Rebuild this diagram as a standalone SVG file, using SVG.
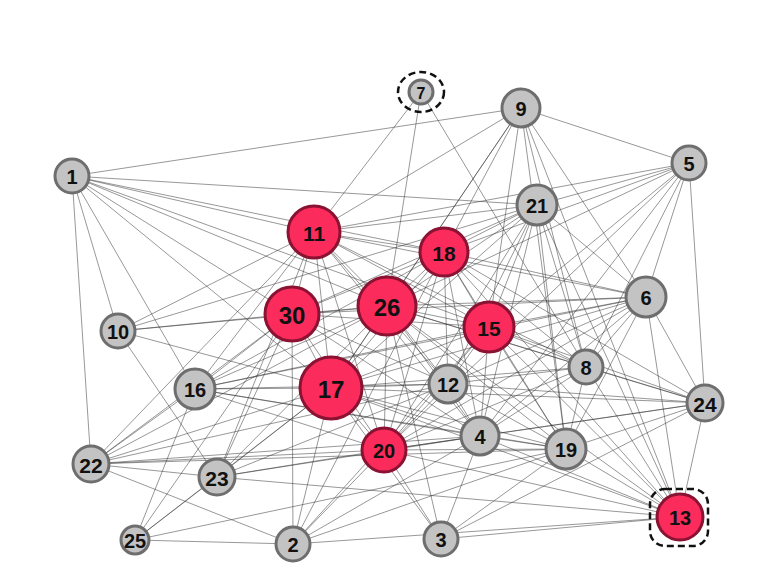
<svg xmlns="http://www.w3.org/2000/svg" width="766" height="575" viewBox="0 0 766 575">
<style>
.e line{stroke:#333;stroke-width:0.6;stroke-opacity:0.85}
.g{fill:#c3c3c3;stroke:#6e6e6e;stroke-width:3}
.r{fill:#fb2b5c;stroke:#8a1232;stroke-width:3}
text{font-family:"Liberation Sans",Arial,sans-serif;font-weight:bold;fill:#111;text-anchor:middle;dominant-baseline:central;font-size:20px}
.md{font-size:21px}
.big{font-size:24px}
.sm{font-size:16px}
.hl{fill:none;stroke:#111;stroke-width:2.5;stroke-dasharray:7 4}
</style>
<g id="edges" class="e">
<line x1="72" y1="176" x2="521" y2="108"/><line x1="72" y1="176" x2="537" y2="205"/><line x1="72" y1="176" x2="314" y2="232"/><line x1="72" y1="176" x2="444" y2="252"/><line x1="72" y1="176" x2="387" y2="306"/><line x1="72" y1="176" x2="292" y2="314"/><line x1="72" y1="176" x2="331" y2="388"/><line x1="72" y1="176" x2="118" y2="331"/><line x1="72" y1="176" x2="195" y2="389"/><line x1="72" y1="176" x2="91" y2="464"/><line x1="72" y1="176" x2="489" y2="327"/>
<line x1="421" y1="92" x2="314" y2="232"/><line x1="421" y1="92" x2="387" y2="306"/><line x1="421" y1="92" x2="586" y2="367"/>
<line x1="521" y1="108" x2="689" y2="163"/><line x1="521" y1="108" x2="314" y2="232"/><line x1="521" y1="108" x2="444" y2="252"/><line x1="521" y1="108" x2="387" y2="306"/><line x1="521" y1="108" x2="331" y2="388"/><line x1="521" y1="108" x2="489" y2="327"/><line x1="521" y1="108" x2="586" y2="367"/><line x1="521" y1="108" x2="646" y2="297"/><line x1="521" y1="108" x2="680" y2="517"/><line x1="521" y1="108" x2="566" y2="449"/>
<line x1="689" y1="163" x2="314" y2="232"/><line x1="689" y1="163" x2="537" y2="205"/><line x1="689" y1="163" x2="444" y2="252"/><line x1="689" y1="163" x2="387" y2="306"/><line x1="689" y1="163" x2="646" y2="297"/><line x1="689" y1="163" x2="705" y2="403"/><line x1="689" y1="163" x2="489" y2="327"/><line x1="689" y1="163" x2="480" y2="436"/><line x1="689" y1="163" x2="586" y2="367"/><line x1="689" y1="163" x2="384" y2="450"/>
<line x1="537" y1="205" x2="314" y2="232"/><line x1="537" y1="205" x2="444" y2="252"/><line x1="537" y1="205" x2="292" y2="314"/><line x1="537" y1="205" x2="387" y2="306"/><line x1="537" y1="205" x2="331" y2="388"/><line x1="537" y1="205" x2="489" y2="327"/><line x1="537" y1="205" x2="448" y2="384"/><line x1="537" y1="205" x2="384" y2="450"/><line x1="537" y1="205" x2="480" y2="436"/><line x1="537" y1="205" x2="646" y2="297"/><line x1="537" y1="205" x2="586" y2="367"/><line x1="537" y1="205" x2="566" y2="449"/><line x1="537" y1="205" x2="680" y2="517"/><line x1="537" y1="205" x2="118" y2="331"/>
<line x1="118" y1="331" x2="314" y2="232"/><line x1="118" y1="331" x2="292" y2="314"/><line x1="118" y1="331" x2="387" y2="306"/><line x1="118" y1="331" x2="331" y2="388"/><line x1="118" y1="331" x2="217" y2="477"/>
<line x1="314" y1="232" x2="444" y2="252"/><line x1="314" y1="232" x2="646" y2="297"/><line x1="314" y1="232" x2="489" y2="327"/><line x1="314" y1="232" x2="387" y2="306"/><line x1="314" y1="232" x2="448" y2="384"/><line x1="314" y1="232" x2="586" y2="367"/><line x1="314" y1="232" x2="480" y2="436"/><line x1="314" y1="232" x2="331" y2="388"/><line x1="314" y1="232" x2="384" y2="450"/><line x1="314" y1="232" x2="292" y2="314"/><line x1="314" y1="232" x2="195" y2="389"/><line x1="314" y1="232" x2="91" y2="464"/><line x1="314" y1="232" x2="217" y2="477"/>
<line x1="444" y1="252" x2="387" y2="306"/><line x1="444" y1="252" x2="292" y2="314"/><line x1="444" y1="252" x2="331" y2="388"/><line x1="444" y1="252" x2="489" y2="327"/><line x1="444" y1="252" x2="448" y2="384"/><line x1="444" y1="252" x2="384" y2="450"/><line x1="444" y1="252" x2="646" y2="297"/><line x1="444" y1="252" x2="586" y2="367"/><line x1="444" y1="252" x2="705" y2="403"/><line x1="444" y1="252" x2="566" y2="449"/><line x1="444" y1="252" x2="680" y2="517"/><line x1="444" y1="252" x2="480" y2="436"/><line x1="444" y1="252" x2="195" y2="389"/><line x1="444" y1="252" x2="293" y2="544"/>
<line x1="387" y1="306" x2="292" y2="314"/><line x1="387" y1="306" x2="331" y2="388"/><line x1="387" y1="306" x2="489" y2="327"/><line x1="387" y1="306" x2="448" y2="384"/><line x1="387" y1="306" x2="384" y2="450"/><line x1="387" y1="306" x2="480" y2="436"/><line x1="387" y1="306" x2="646" y2="297"/><line x1="387" y1="306" x2="586" y2="367"/><line x1="387" y1="306" x2="705" y2="403"/><line x1="387" y1="306" x2="566" y2="449"/><line x1="387" y1="306" x2="680" y2="517"/><line x1="387" y1="306" x2="195" y2="389"/><line x1="387" y1="306" x2="91" y2="464"/><line x1="387" y1="306" x2="217" y2="477"/><line x1="387" y1="306" x2="441" y2="539"/>
<line x1="292" y1="314" x2="331" y2="388"/><line x1="292" y1="314" x2="489" y2="327"/><line x1="292" y1="314" x2="448" y2="384"/><line x1="292" y1="314" x2="384" y2="450"/><line x1="292" y1="314" x2="480" y2="436"/><line x1="292" y1="314" x2="195" y2="389"/><line x1="292" y1="314" x2="91" y2="464"/><line x1="292" y1="314" x2="217" y2="477"/><line x1="292" y1="314" x2="135" y2="540"/><line x1="292" y1="314" x2="646" y2="297"/><line x1="292" y1="314" x2="293" y2="544"/>
<line x1="489" y1="327" x2="331" y2="388"/><line x1="489" y1="327" x2="448" y2="384"/><line x1="489" y1="327" x2="384" y2="450"/><line x1="489" y1="327" x2="480" y2="436"/><line x1="489" y1="327" x2="566" y2="449"/><line x1="489" y1="327" x2="586" y2="367"/><line x1="489" y1="327" x2="646" y2="297"/><line x1="489" y1="327" x2="705" y2="403"/><line x1="489" y1="327" x2="680" y2="517"/><line x1="489" y1="327" x2="195" y2="389"/><line x1="489" y1="327" x2="293" y2="544"/>
<line x1="331" y1="388" x2="448" y2="384"/><line x1="331" y1="388" x2="384" y2="450"/><line x1="331" y1="388" x2="480" y2="436"/><line x1="331" y1="388" x2="586" y2="367"/><line x1="331" y1="388" x2="566" y2="449"/><line x1="331" y1="388" x2="646" y2="297"/><line x1="331" y1="388" x2="705" y2="403"/><line x1="331" y1="388" x2="680" y2="517"/><line x1="331" y1="388" x2="195" y2="389"/><line x1="331" y1="388" x2="91" y2="464"/><line x1="331" y1="388" x2="217" y2="477"/><line x1="331" y1="388" x2="135" y2="540"/><line x1="331" y1="388" x2="293" y2="544"/><line x1="331" y1="388" x2="441" y2="539"/>
<line x1="448" y1="384" x2="384" y2="450"/><line x1="448" y1="384" x2="480" y2="436"/><line x1="448" y1="384" x2="586" y2="367"/><line x1="448" y1="384" x2="646" y2="297"/><line x1="448" y1="384" x2="705" y2="403"/><line x1="448" y1="384" x2="566" y2="449"/><line x1="448" y1="384" x2="195" y2="389"/><line x1="448" y1="384" x2="91" y2="464"/><line x1="448" y1="384" x2="217" y2="477"/>
<line x1="646" y1="297" x2="586" y2="367"/><line x1="646" y1="297" x2="705" y2="403"/><line x1="646" y1="297" x2="680" y2="517"/><line x1="646" y1="297" x2="480" y2="436"/><line x1="646" y1="297" x2="566" y2="449"/><line x1="646" y1="297" x2="384" y2="450"/><line x1="646" y1="297" x2="195" y2="389"/>
<line x1="586" y1="367" x2="705" y2="403"/><line x1="586" y1="367" x2="566" y2="449"/><line x1="586" y1="367" x2="680" y2="517"/><line x1="586" y1="367" x2="480" y2="436"/><line x1="586" y1="367" x2="384" y2="450"/>
<line x1="705" y1="403" x2="480" y2="436"/><line x1="705" y1="403" x2="566" y2="449"/><line x1="705" y1="403" x2="680" y2="517"/><line x1="705" y1="403" x2="384" y2="450"/><line x1="705" y1="403" x2="441" y2="539"/>
<line x1="384" y1="450" x2="480" y2="436"/><line x1="384" y1="450" x2="566" y2="449"/><line x1="384" y1="450" x2="680" y2="517"/><line x1="384" y1="450" x2="195" y2="389"/><line x1="384" y1="450" x2="91" y2="464"/><line x1="384" y1="450" x2="217" y2="477"/><line x1="384" y1="450" x2="293" y2="544"/><line x1="384" y1="450" x2="441" y2="539"/>
<line x1="480" y1="436" x2="566" y2="449"/><line x1="480" y1="436" x2="680" y2="517"/><line x1="480" y1="436" x2="441" y2="539"/><line x1="480" y1="436" x2="195" y2="389"/><line x1="480" y1="436" x2="91" y2="464"/><line x1="480" y1="436" x2="217" y2="477"/><line x1="480" y1="436" x2="293" y2="544"/>
<line x1="566" y1="449" x2="680" y2="517"/><line x1="566" y1="449" x2="195" y2="389"/><line x1="566" y1="449" x2="91" y2="464"/><line x1="566" y1="449" x2="293" y2="544"/><line x1="566" y1="449" x2="135" y2="540"/><line x1="566" y1="449" x2="441" y2="539"/>
<line x1="680" y1="517" x2="217" y2="477"/><line x1="680" y1="517" x2="441" y2="539"/><line x1="680" y1="517" x2="293" y2="544"/>
<line x1="91" y1="464" x2="195" y2="389"/><line x1="91" y1="464" x2="217" y2="477"/><line x1="91" y1="464" x2="293" y2="544"/>
<line x1="217" y1="477" x2="135" y2="540"/><line x1="135" y1="540" x2="195" y2="389"/><line x1="135" y1="540" x2="293" y2="544"/>
</g>
<g id="n1"><circle class="g" cx="72" cy="176" r="17"/><text x="72" y="177">1</text></g>
<g id="n7"><ellipse class="hl" cx="421" cy="92" rx="23" ry="20"/><circle class="g" cx="421" cy="92" r="12"/><text class="sm" x="421" y="93">7</text></g>
<g id="n9"><circle class="g" cx="521" cy="108" r="19"/><text x="521" y="109">9</text></g>
<g id="n5"><circle class="g" cx="689" cy="163" r="17"/><text x="689" y="164">5</text></g>
<g id="n21"><circle class="g" cx="537" cy="205" r="20"/><text x="537" y="206">21</text></g>
<g id="n11"><circle class="r" cx="314" cy="232" r="26"/><text class="md" x="314" y="233">11</text></g>
<g id="n18"><circle class="r" cx="444" cy="252" r="24"/><text class="md" x="444" y="253">18</text></g>
<g id="n26"><circle class="r" cx="387" cy="306" r="29"/><text class="big" x="387" y="307">26</text></g>
<g id="n30"><circle class="r" cx="292" cy="314" r="27"/><text class="big" x="292" y="315">30</text></g>
<g id="n15"><circle class="r" cx="489" cy="327" r="25"/><text class="md" x="489" y="328">15</text></g>
<g id="n6"><circle class="g" cx="646" cy="297" r="20"/><text x="646" y="298">6</text></g>
<g id="n10"><circle class="g" cx="118" cy="331" r="17"/><text x="118" y="332">10</text></g>
<g id="n16"><circle class="g" cx="195" cy="389" r="20"/><text x="195" y="390">16</text></g>
<g id="n17"><circle class="r" cx="331" cy="388" r="31"/><text class="big" x="331" y="389">17</text></g>
<g id="n12"><circle class="g" cx="448" cy="384" r="19"/><text x="448" y="385">12</text></g>
<g id="n8"><circle class="g" cx="586" cy="367" r="17"/><text x="586" y="368">8</text></g>
<g id="n24"><circle class="g" cx="705" cy="403" r="18"/><text class="md" x="705" y="404">24</text></g>
<g id="n20"><circle class="r" cx="384" cy="450" r="22"/><text x="384" y="451">20</text></g>
<g id="n4"><circle class="g" cx="480" cy="436" r="19"/><text x="480" y="437">4</text></g>
<g id="n19"><circle class="g" cx="566" cy="449" r="20"/><text x="566" y="450">19</text></g>
<g id="n13"><rect class="hl" x="650" y="489" width="58" height="57" rx="15"/><circle class="r" cx="680" cy="517" r="23"/><text x="680" y="518">13</text></g>
<g id="n22"><circle class="g" cx="91" cy="464" r="18"/><text class="md" x="91" y="465">22</text></g>
<g id="n23"><circle class="g" cx="217" cy="477" r="18"/><text class="md" x="217" y="478">23</text></g>
<g id="n25"><circle class="g" cx="135" cy="540" r="14"/><text x="135" y="541">25</text></g>
<g id="n2"><circle class="g" cx="293" cy="544" r="17"/><text x="293" y="545">2</text></g>
<g id="n3"><circle class="g" cx="441" cy="539" r="17"/><text x="441" y="540">3</text></g>
</svg>
